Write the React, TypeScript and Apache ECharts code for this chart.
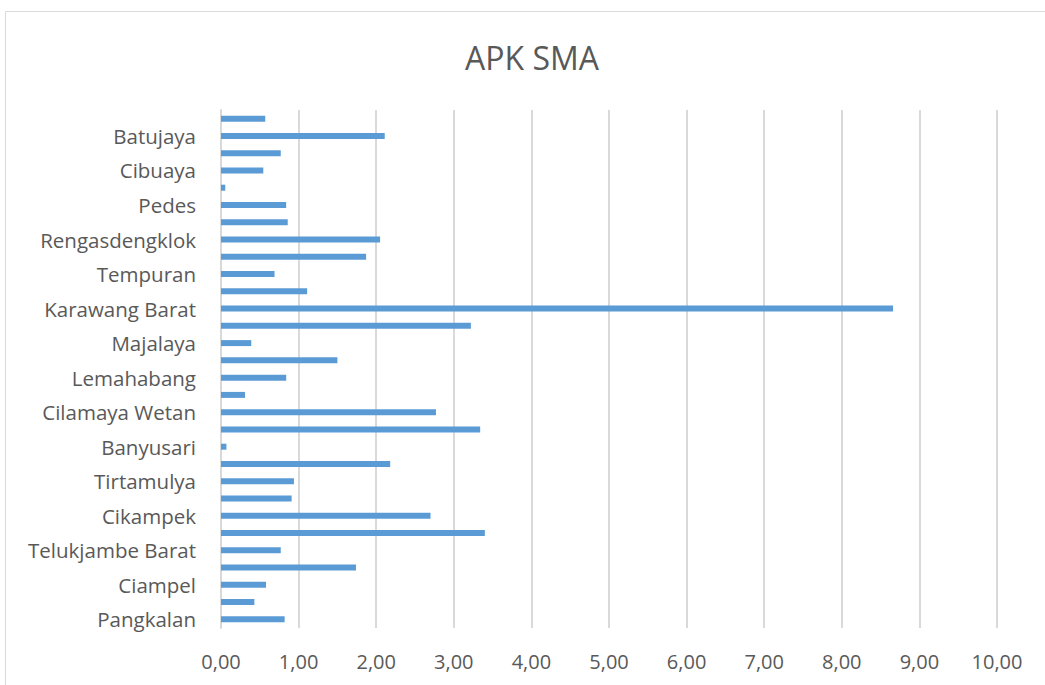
import React, { useEffect, useRef } from "react";
import * as echarts from "echarts";

const categories = [
  "Pangkalan", "Tegalwaru", "Ciampel", "Telukjambe Timur", "Telukjambe Barat",
  "Klari", "Cikampek", "Purwasari", "Tirtamulya", "Jatisari",
  "Banyusari", "Kotabaru", "Cilamaya Wetan", "Cilamaya Kulon", "Lemahabang",
  "Telagasari", "Majalaya", "Karawang Timur", "Karawang Barat", "Rawamerta",
  "Tempuran", "Kutawaluya", "Rengasdengklok", "Jayakerta", "Pedes",
  "Cilebar", "Cibuaya", "Tirtajaya", "Batujaya", "Pakisjaya",
];

const apkValues = [
  0.82, 0.43, 0.58, 1.74, 0.77,
  3.40, 2.70, 0.91, 0.94, 2.18,
  0.07, 3.34, 2.77, 0.31, 0.84,
  1.50, 0.39, 3.22, 8.66, 1.11,
  0.69, 1.87, 2.05, 0.86, 0.84,
  0.055, 0.545, 0.77, 2.11, 0.57,
];

const titleText = "APK SMA";

export default function App() {
  const ref = useRef<HTMLDivElement>(null);
  useEffect(() => {
    document.body.style.margin = "0";
    if (!ref.current) return;
    const chart = echarts.init(ref.current, null, { renderer: "svg" });
    chart.setOption({
      animation: false,
      backgroundColor: "#ffffff",
      textStyle: { fontFamily: "Open Sans" },
      title: {
        text: titleText,
        left: 460,
        top: 36,
        textStyle: { fontFamily: "Open Sans", fontSize: 32, fontWeight: "normal", color: "#595959" },
      },
      graphic: [
        {
          type: "rect",
          shape: { x: 5.5, y: 11.5, width: 1100, height: 700 },
          style: { fill: "none", stroke: "#d9d9d9", lineWidth: 1 },
          silent: true,
        },
      ],
      grid: { left: 221, right: 48, top: 110, bottom: 57, containLabel: false },
      xAxis: {
        type: "value",
        min: 0,
        max: 10,
        interval: 1,
        axisLine: { show: false },
        axisTick: { show: false },
        splitLine: { show: true, lineStyle: { color: "#d9d9d9", width: 2 } },
        axisLabel: {
          margin: 23,
          fontSize: 20,
          color: "#595959",
          fontFamily: "Open Sans",
          formatter: (v: number) => v.toFixed(2).replace(".", ","),
        },
      },
      yAxis: {
        type: "category",
        data: categories,
        axisLine: { show: true, lineStyle: { color: "#d9d9d9", width: 2 } },
        axisTick: { show: false },
        axisLabel: {
          interval: 1,
          margin: 25,
          fontSize: 20.5,
          color: "#595959",
          fontFamily: "Open Sans",
        },
      },
      series: [
        {
          type: "bar",
          data: apkValues,
          barWidth: 6,
          itemStyle: { color: "#5b9bd5" },
        },
      ],
    });
    return () => chart.dispose();
  }, []);
  return <div ref={ref} style={{ width: 1045, height: 685 }} />;
}
